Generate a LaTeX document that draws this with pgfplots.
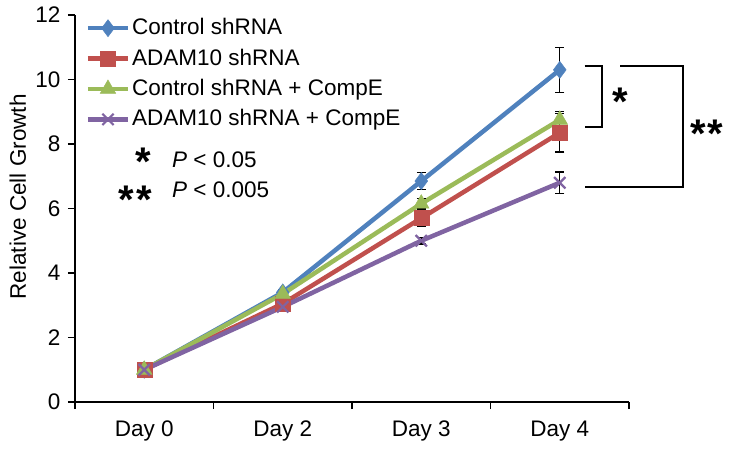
\documentclass[border=0pt]{standalone}
\usepackage{pgfplots}
\pgfplotsset{compat=1.18}
\usepackage{fontspec}
\setmainfont{Liberation Sans}
\definecolor{cblue}{HTML}{4F81BD}
\definecolor{cred}{HTML}{C0504D}
\definecolor{cgreen}{HTML}{9BBB59}
\definecolor{cpurple}{HTML}{8064A2}
\begin{document}
\fontsize{22.5}{27}\selectfont
\begin{tikzpicture}
\begin{axis}[
    scale only axis,
    width=554pt, height=387pt,
    xmin=-0.5, xmax=3.5, ymin=0, ymax=12,
    axis x line*=bottom, axis y line*=left,
    axis line style={line width=1.8pt, black},
    xtick={-0.5,0.5,1.5,2.5,3.5},
    xticklabels={Day 0,Day 2,Day 3,Day 4},
    x tick label as interval,
    x tick label style={yshift=-4pt},
    ytick={0,2,...,12},
    tick align=outside,
    major tick length=7pt,
    tick style={line width=1.8pt, black},
    /pgf/number format/assume math mode=true,
    ticklabel style={font=\fontsize{22.5}{27}\selectfont},
    ylabel={Relative Cell Growth},
    ylabel style={font=\fontsize{22.5}{27}\selectfont, at={(axis description cs:-0.103,0.53)},
        anchor=center},
    clip=false,
    legend style={draw=none, fill=none, at={(rel axis cs:0.019,0.997)}, anchor=north west,
        font=\fontsize{22.5}{27}\selectfont, row sep=6.7pt, inner sep=0pt},
    legend cell align=left,
    legend image code/.code={\draw[mark repeat=2,mark phase=2] plot coordinates {(0pt,0pt)(20pt,0pt)(40pt,0pt)};},
    error bars/y dir=both, error bars/y explicit,
    error bars/error bar style={black, line width=1.2pt},
    error bars/error mark options={rotate=90, mark size=4.5pt, black, line width=1.2pt},
]
\addplot[cblue, line width=4.5pt, mark=diamond*, mark size=8.5pt, mark options={line width=0.5pt}]
  coordinates {(0,1) +- (0,0) (1,3.4) +- (0,0.1) (2,6.85) +- (0,0.27) (3,10.3) +- (0,0.7)};
\addlegendentry{Control shRNA}
\addplot[cred, line width=4.5pt, mark=square*, mark size=7.5pt, mark options={line width=0.5pt}]
  coordinates {(0,1) +- (0,0) (1,3.05) +- (0,0.1) (2,5.7) +- (0,0.27) (3,8.35) +- (0,0.6)};
\addlegendentry{ADAM10 shRNA}
\addplot[cgreen, line width=4.5pt, mark=triangle*, mark size=9pt, mark options={line width=0.5pt}]
  coordinates {(0,1) +- (0,0) (1,3.35) +- (0,0.1) (2,6.15) +- (0,0.15) (3,8.75) +- (0,0.25)};
\addlegendentry{Control shRNA + CompE}
\addplot[cpurple, line width=4.5pt, mark=x, mark size=8pt, mark options={line width=2.2pt}]
  coordinates {(0,1) +- (0,0) (1,2.95) +- (0,0.05) (2,5.0) +- (0,0.1) (3,6.8) +- (0,0.33)};
\addlegendentry{ADAM10 shRNA + CompE}
% significance brackets
\draw[line width=1.8pt] (axis cs:3.18,10.42) -- (axis cs:3.305,10.42) -- (axis cs:3.305,8.53) -- (axis cs:3.18,8.53);
\draw[line width=1.8pt] (axis cs:3.435,10.42) -- (axis cs:3.89,10.42) -- (axis cs:3.89,6.67) -- (axis cs:3.18,6.67);
\node[anchor=north, inner sep=0pt, font=\fontsize{40}{40}\selectfont\bfseries] at (axis cs:3.435,9.74) {*};
\node[anchor=north, inner sep=0pt, font=\fontsize{40}{40}\selectfont\bfseries] at (axis cs:4.06,8.74) {*\kern2pt*};
% p-value key
\node[anchor=north, inner sep=0pt, font=\fontsize{40}{40}\selectfont\bfseries] at (rel axis cs:0.124,0.656) {*};
\node[anchor=north, inner sep=0pt, font=\fontsize{40}{40}\selectfont\bfseries] at (rel axis cs:0.109,0.558) {*\kern2pt*};
\node[anchor=west, inner sep=0pt] at (rel axis cs:0.175,0.625) {\textit{P} < 0.05};
\node[anchor=west, inner sep=0pt] at (rel axis cs:0.175,0.549) {\textit{P} < 0.005};
\coordinate (SW) at (rel axis cs:0,0);
\coordinate (NE) at (rel axis cs:1,1);
\end{axis}
\pgfresetboundingbox
\path ([shift={(-75pt,-46pt)}]SW) rectangle ([shift={(100pt,15pt)}]NE);
\end{tikzpicture}
\end{document}
